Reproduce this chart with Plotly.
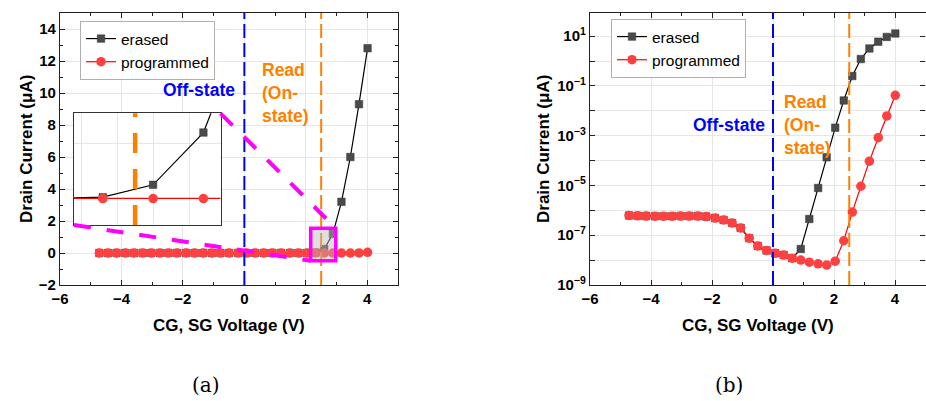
import plotly.graph_objects as go

# ---------------- data ----------------
voltage = [-4.72, -4.44, -4.16, -3.87, -3.59, -3.31, -3.03, -2.75, -2.47, -2.19,
           -1.90, -1.62, -1.34, -1.06, -0.78, -0.50, -0.21, 0.07, 0.35, 0.63,
           0.91, 1.19, 1.48, 1.76, 2.04, 2.32, 2.60, 2.88, 3.16, 3.45, 3.73, 4.01]

programmed = [6.2e-7, 6.0e-7, 5.9e-7, 5.8e-7, 5.8e-7, 5.8e-7, 5.9e-7, 5.9e-7, 5.9e-7, 5.6e-7,
              4.9e-7, 4.1e-7, 3.1e-7, 1.95e-7, 7.6e-8, 3.7e-8, 2.45e-8, 1.9e-8, 1.6e-8, 1.2e-8,
              1.0e-8, 8.3e-9, 7.1e-9, 6.3e-9, 9.1e-9, 6.0e-8, 8.5e-7, 9.3e-6, 9.5e-5, 8.3e-4,
              6.2e-3, 4.2e-2]

erased = [6.2e-7, 6.0e-7, 5.9e-7, 5.8e-7, 5.8e-7, 5.8e-7, 5.9e-7, 5.9e-7, 5.9e-7, 5.6e-7,
          4.9e-7, 4.1e-7, 3.1e-7, 1.95e-7, 7.6e-8, 3.7e-8, 2.45e-8, 1.9e-8, 1.6e-8, 1.2e-8,
          2.8e-8, 4.5e-7, 7.9e-6, 1.35e-4, 2.1e-3, 2.6e-2, 0.25, 1.2, 3.2, 6.0,
          9.3, 12.8]

series_names = ["erased", "programmed"]
off_state_v = 0.0
read_v = 2.5
zoom_x = [2.16, 2.975]
zoom_y = [-0.48, 1.55]

log_tick_exps = [-9, -8, -7, -6, -5, -4, -3, -2, -1, 0, 1]

# ---------------- layout constants ----------------
W, H = 926, 401
FONT = "Liberation Sans"
ERASED_FILL = "#4a4a4a"
PROG_FILL = "#FF4040"
BLUE = "#0000FF"
ORANGE = "#FF8000"
MAGENTA = "#FF00FF"

dom_a_x = [60 / W, 398 / W]
dom_b_x = [590 / W, 925.5 / W]
dom_y = [1 - 285 / H, 1 - 13 / H]
dom_in_x = [74 / W, 220.5 / W]
dom_in_y = [1 - 225 / H, 1 - 113.3 / H]
xr = [-6, 5]
yr_lin = [-2, 15]
yr_log = [-9, 1.93]


def traces(xax, yax, showlegend, legend):
    e = go.Scatter(x=voltage, y=erased, name=series_names[0], mode="lines+markers",
                   line=dict(color="black", width=1.2),
                   marker=dict(symbol="square", size=7.5, color=ERASED_FILL,
                               line=dict(color="#333333", width=0.5)),
                   xaxis=xax, yaxis=yax, showlegend=showlegend, legend=legend)
    p = go.Scatter(x=voltage, y=programmed, name=series_names[1], mode="lines+markers",
                   line=dict(color="#FF0000", width=1.2),
                   marker=dict(symbol="circle", size=9.5, color=PROG_FILL),
                   xaxis=xax, yaxis=yax, showlegend=showlegend, legend=legend)
    return [e, p]


fig = go.Figure()
for t in traces("x", "y", True, "legend"):
    fig.add_trace(t)
for t in traces("x2", "y2", True, "legend2"):
    fig.add_trace(t)
for t in traces("x3", "y3", False, "legend"):
    fig.add_trace(t)

tickfont = dict(family=FONT, size=15, color="black", weight="bold")
common = dict(showline=True, linecolor="#222222", linewidth=1.3, mirror="allticks",
              ticks="inside", ticklen=5, tickwidth=1.2, tickcolor="#222222",
              showgrid=True, gridcolor="#e6e6e6", gridwidth=1, zeroline=False,
              tickfont=tickfont, automargin=False)
minor_lin = dict(ticks="inside", ticklen=3, tickcolor="#222222", dtick=1, showgrid=False)
inset_ax = dict(showline=True, mirror=True, linecolor="#333333", linewidth=1,
                showticklabels=False, ticks="", showgrid=True, gridcolor="#e6e6e6",
                zeroline=False, automargin=False)

ticktext_log = [("10<sup>%s</sup>" % (str(e).replace("-", "\u2212")) if e % 2 else "")
                for e in log_tick_exps]

fig.update_layout(
    template="none",
    width=W, height=H, margin=dict(l=0, r=0, t=0, b=0, pad=0, autoexpand=False),
    paper_bgcolor="white", plot_bgcolor="white",
    font=dict(family=FONT, color="black"),
    xaxis=dict(domain=dom_a_x, range=xr, anchor="y", tick0=-6, dtick=2, minor=minor_lin, **common),
    yaxis=dict(domain=dom_y, range=yr_lin, anchor="x", tick0=0, dtick=2, minor=minor_lin, **common),
    xaxis2=dict(domain=dom_b_x, range=xr, anchor="y2", tick0=-6, dtick=2, minor=minor_lin, **common),
    yaxis2=dict(domain=dom_y, range=yr_log, anchor="x2", type="log",
                tickvals=[10 ** e for e in log_tick_exps], ticktext=ticktext_log, **common),
    xaxis3=dict(domain=dom_in_x, range=zoom_x, anchor="y3", tick0=0, dtick=0.2, **inset_ax),
    yaxis3=dict(domain=dom_in_y, range=zoom_y, anchor="x3", tick0=0, dtick=1, **inset_ax),
    legend=dict(x=80 / W, y=1 - 21 / H, xanchor="left", yanchor="top",
                bgcolor="white", bordercolor="#b0b0b0", borderwidth=1,
                font=dict(family=FONT, size=15.5, color="black"), tracegroupgap=0),
    legend2=dict(x=611 / W, y=1 - 19 / H, xanchor="left", yanchor="top",
                 bgcolor="white", bordercolor="#b0b0b0", borderwidth=1,
                 font=dict(family=FONT, size=15.5, color="black"), tracegroupgap=0),
)

# vertical dashed reference lines
for xa in ["x", "x2"]:
    ya = "y" if xa == "x" else "y2"
    fig.add_shape(type="line", xref=xa, yref=ya + " domain", x0=off_state_v, x1=off_state_v,
                  y0=0, y1=1, line=dict(color=BLUE, width=2, dash="14px,5px"), layer="above")
    fig.add_shape(type="line", xref=xa, yref=ya + " domain", x0=read_v, x1=read_v,
                  y0=0, y1=1, line=dict(color=ORANGE, width=2, dash="14px,5px"), layer="above")
fig.add_shape(type="line", xref="x3", yref="y3 domain", x0=read_v, x1=read_v, y0=0, y1=1,
              line=dict(color=ORANGE, width=4.5, dash="20px,16px"), layer="above")

# zoom box on main plot
fig.add_shape(type="rect", xref="x", yref="y", x0=zoom_x[0], x1=zoom_x[1],
              y0=zoom_y[0], y1=zoom_y[1], line=dict(color=MAGENTA, width=3.5),
              fillcolor="rgba(185,185,185,0.45)", layer="above")


def to_paper_x(v):
    return dom_a_x[0] + (v - xr[0]) / (xr[1] - xr[0]) * (dom_a_x[1] - dom_a_x[0])


def to_paper_y(v):
    return dom_y[0] + (v - yr_lin[0]) / (yr_lin[1] - yr_lin[0]) * (dom_y[1] - dom_y[0])


# connector dashed lines inset <-> zoom box
fig.add_shape(type="line", xref="paper", yref="paper",
              x0=dom_in_x[0], y0=dom_in_y[0], x1=to_paper_x(zoom_x[0]), y1=to_paper_y(zoom_y[0]),
              line=dict(color=MAGENTA, width=4, dash="17px,16px"), layer="above")
fig.add_shape(type="line", xref="paper", yref="paper",
              x0=dom_in_x[1], y0=dom_in_y[1], x1=to_paper_x(zoom_x[1]), y1=to_paper_y(zoom_y[1]),
              line=dict(color=MAGENTA, width=4, dash="17px,16px"), layer="above")

# text annotations
txt = dict(family=FONT, size=17.5, weight="bold")
fig.add_annotation(x=-1.47, y=10.2, xref="x", yref="y", text="Off-state", showarrow=False,
                   font=dict(color=BLUE, **txt))
fig.add_annotation(x=0.52, y=10.0, xref="x", yref="y", text="Read<br>(On-<br>state)",
                   showarrow=False, xanchor="left", align="left", font=dict(color=ORANGE, **txt))
fig.add_annotation(x=-1.45, y=-2.56, xref="x2", yref="y2", text="Off-state", showarrow=False,
                   font=dict(color=BLUE, **txt))
fig.add_annotation(x=0.29, y=-2.58, xref="x2", yref="y2", text="Read<br>(On-<br>state)",
                   showarrow=False, xanchor="left", align="left", font=dict(color=ORANGE, **txt))

# axis titles
ttl = dict(family=FONT, size=17, weight="bold", color="black")
for cx in [229, 758]:
    fig.add_annotation(x=cx / W, y=1 - 325 / H, xref="paper", yref="paper",
                       text="CG, SG Voltage (V)", showarrow=False, font=ttl,
                       xanchor="center", yanchor="middle")
for cx in [26, 543]:
    fig.add_annotation(x=cx / W, y=1 - 149 / H, xref="paper", yref="paper",
                       text="Drain Current (\u03bcA)", showarrow=False, font=ttl, textangle=-90,
                       xanchor="center", yanchor="middle")

# panel labels
for lab, cx in [("(a)", 206), ("(b)", 729)]:
    fig.add_annotation(x=cx / W, y=1 - 385 / H, xref="paper", yref="paper", text=lab,
                       showarrow=False, xanchor="center", yanchor="middle",
                       font=dict(family="DejaVu Serif", size=20, color="black"))

fig.write_html("out.html")
